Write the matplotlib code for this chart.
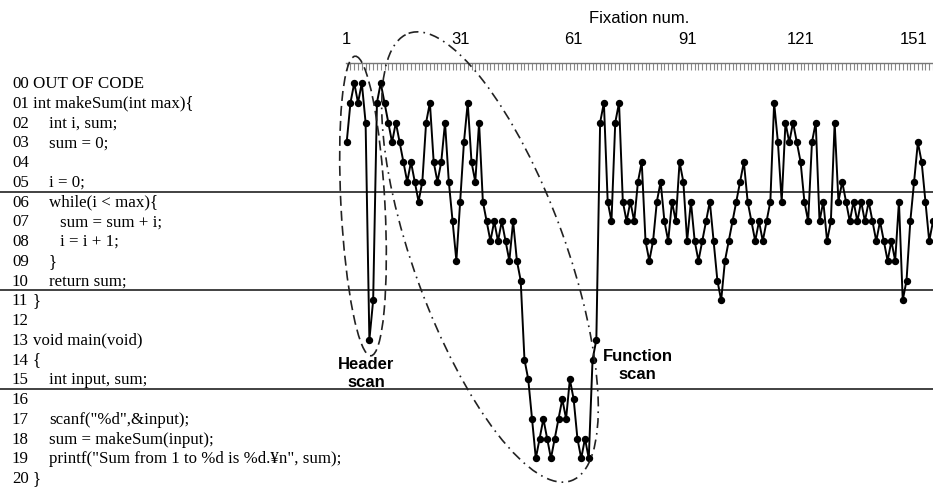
import numpy as np
import matplotlib
matplotlib.use('Agg')
import matplotlib.pyplot as plt
from matplotlib.patches import Ellipse
from matplotlib.transforms import blended_transform_factory

# source line (0 = out of code) looked at by each successive fixation
FIXATION_LINE = [
    3, 1, 0, 1, 0, 2, 13, 11, 1, 0, 1, 2, 3, 2, 3, 4, 5, 4, 5, 6,
    5, 2, 1, 4, 5, 4, 2, 5, 7, 9, 6, 3, 1, 4, 5, 2, 6, 7, 8, 7,
    8, 7, 8, 9, 7, 9, 10, 14, 15, 17, 19, 18, 17, 18, 19, 18, 17, 16, 17, 15,
    16, 18, 19, 18, 19, 14, 13, 2, 1, 6, 7, 2, 1, 6, 7, 6, 7, 5, 4, 8,
    9, 8, 6, 5, 7, 8, 6, 7, 4, 5, 8, 6, 8, 9, 8, 7, 6, 8, 10, 11,
    9, 8, 7, 6, 5, 4, 6, 7, 8, 7, 8, 7, 6, 1, 3, 6, 2, 3, 2, 3,
    4, 6, 7, 3, 2, 7, 6, 8, 7, 2, 6, 5, 6, 7, 6, 7, 6, 7, 6, 7,
    8, 7, 8, 9, 8, 9, 6, 11, 10, 7, 5, 3, 4, 6, 8, 7,
]
TICK_FIXATIONS = [1, 31, 61, 91, 121, 151]

CODE_LINES = [
    'OUT OF CODE',
    'int makeSum(int max){',
    'int i, sum;',
    'sum = 0;',
    '',
    'i = 0;',
    'while(i < max){',
    'sum = sum + i;',
    'i = i + 1;',
    '}',
    'return sum;',
    '}',
    '',
    'void main(void)',
    '{',
    'int input, sum;',
    '',
    'scanf("%d",&input);',
    'sum = makeSum(input);',
    'printf("Sum from 1 to %d is %d.¥n", sum);',
    '}',
]
CODE_INDENT = [0, 0, 1, 1, 1, 1, 1, 2, 2, 1, 1, 0, 0, 0, 0, 1, 1, 1, 1, 1, 0]
BLOCK_BREAKS = [5.5, 10.5, 15.5]

W, H = 933, 489
fig = plt.figure(figsize=(W / 100, H / 100), dpi=100)

# plot area: left edge at fixation 1, top edge = fixation axis
ax = fig.add_axes([346 / W, 0, (W - 346) / W, (H - 64) / H])
fix = np.arange(1, len(FIXATION_LINE) + 1)
ax.plot(fix, FIXATION_LINE, color='black', lw=1.4, marker='o', ms=4.3,
        mfc='black', mec='black', clip_on=False, zorder=3)
ax.set_xlim(0.82, 155.8)
ax.set_ylim(20.5, -1.013)

for s in ['left', 'right', 'bottom']:
    ax.spines[s].set_visible(False)
ax.spines['top'].set_color('#777777')
ax.spines['top'].set_linewidth(1.0)
ax.set_yticks([])
ax.xaxis.tick_top()
ax.set_xticks(TICK_FIXATIONS)
ax.set_xticks(np.arange(1, 157), minor=True)
ax.tick_params(axis='x', which='both', direction='in', color='#888888',
               length=5, width=0.8, labelsize=12, pad=12.5)
ax.xaxis.set_label_position('top')
ax.set_xlabel('Fixation num.', fontsize=12, labelpad=6.5)
for lab in ax.get_xticklabels() + [ax.xaxis.label]:
    lab.set_family('Liberation Sans')

# code listing on the left, aligned with line numbers
blend = blended_transform_factory(fig.transFigure, ax.transData)
indent_px = [33, 49, 60]
for k, txt in enumerate(CODE_LINES):
    ax.text(12 / W, k, f'{k:02d}', transform=blend, ha='left', va='center',
            family='Liberation Serif', fontsize=12.2, clip_on=False)
    if txt:
        ax.text(indent_px[CODE_INDENT[k]] / W, k, txt, transform=blend,
                ha='left', va='center', family='Liberation Serif',
                fontsize=12.2, clip_on=False)

for yb in BLOCK_BREAKS:
    ax.plot([0, 1], [yb, yb], transform=blend, color='#333333', lw=1.3,
            clip_on=False, zorder=2)

ax.text(6.1, 14.65, 'Header\nscan', ha='center', va='center', fontsize=12,
        fontweight='bold', family='Liberation Sans', linespacing=1.3)
ax.text(77.9, 14.25, 'Function\nscan', ha='center', va='center', fontsize=12,
        fontweight='bold', family='Liberation Sans', linespacing=1.3)

# scan regions drawn on a pixel overlay
ov = fig.add_axes([0, 0, 1, 1])
ov.set_xlim(0, W)
ov.set_ylim(H, 0)
ov.axis('off')
ov.patch.set_visible(False)
ov.add_patch(Ellipse((363, 207), 44, 300, angle=-3, fill=False, color='#222222',
                     lw=1.2, ls=(0, (6, 3))))
ov.add_patch(Ellipse((490, 258), 152, 476, angle=-20, fill=False, color='#222222',
                     lw=1.2, ls=(0, (6, 3, 1, 3))))

fig.savefig('out.png', dpi=100)
